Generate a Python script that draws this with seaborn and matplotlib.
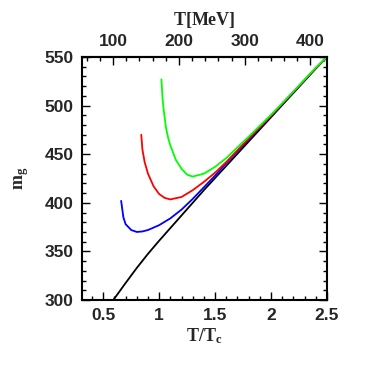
import matplotlib
matplotlib.use("Agg")
import matplotlib.pyplot as plt
from matplotlib.ticker import MultipleLocator
import seaborn as sns
import pandas as pd

# ---- data ----
Tc = 170.0  # MeV

x_black = [0.59, 0.70, 0.80, 0.90, 1.00, 1.10, 1.20, 1.30, 1.40, 1.60, 1.80, 2.00,
           2.20, 2.40, 2.50]
y_black = [300, 317.5, 333, 347.5, 361, 374, 387, 400, 413, 438, 463, 488,
           513, 538, 550]

x_blue = [0.66, 0.68, 0.70, 0.75, 0.80, 0.85, 0.90, 1.00, 1.10, 1.20, 1.30, 1.40,
          1.50, 1.60, 1.80, 2.00, 2.20, 2.40, 2.50]
y_blue = [402, 385, 378, 372, 370, 370.5, 372, 377, 384, 393, 404, 416,
          428, 441, 465, 489, 513.5, 538.5, 550]

x_red = [0.84, 0.85, 0.87, 0.90, 0.95, 1.00, 1.05, 1.10, 1.20, 1.30, 1.40, 1.50,
         1.60, 1.80, 2.00, 2.20, 2.40, 2.50]
y_red = [470, 455, 442, 430, 417, 409, 405, 403.5, 406, 413, 421.5, 431,
         442, 466, 489.5, 514, 538.5, 550]

x_green = [1.02, 1.03, 1.04, 1.06, 1.08, 1.10, 1.15, 1.20, 1.25, 1.30, 1.40, 1.50,
           1.60, 1.80, 2.00, 2.20, 2.40, 2.50]
y_green = [527, 508, 496, 478, 467, 459, 444, 435, 429, 427, 430, 437,
           446, 468, 490.5, 514.5, 539, 550]

x_ticks = [0.5, 1.0, 1.5, 2.0, 2.5]
x_ticklabels = ["0.5", "1", "1.5", "2", "2.5"]
y_ticks = [300, 350, 400, 450, 500, 550]
top_ticks = [100, 200, 300, 400]

series = [("black", x_black, y_black, "#000000"),
          ("blue", x_blue, y_blue, "#0000ff"),
          ("red", x_red, y_red, "#ff0000"),
          ("green", x_green, y_green, "#00ff00")]

frames = []
for name, xs, ys, _ in series:
    frames.append(pd.DataFrame({"x": xs, "y": ys, "s": name}))
df = pd.concat(frames, ignore_index=True)
palette = {name: c for name, _, _, c in series}

# ---- style ----
sns.set_theme(style="ticks")
plt.rcParams["font.family"] = ["Liberation Sans", "DejaVu Sans"]
plt.rcParams["mathtext.fontset"] = "custom"
plt.rcParams["mathtext.rm"] = "Liberation Serif"
plt.rcParams["mathtext.it"] = "Liberation Serif:italic"
plt.rcParams["mathtext.bf"] = "Liberation Serif:bold"

fig = plt.figure(figsize=(3.82, 3.82), dpi=100)
ax = fig.add_axes([0.2147, 0.2147, 0.641, 0.636])

sns.lineplot(data=df, x="x", y="y", hue="s", palette=palette, ax=ax,
             estimator=None, sort=False, legend=False, linewidth=1.3,
             hue_order=["black", "blue", "red", "green"])

ax.set_xlim(0.31, 2.5)
ax.set_ylim(300, 550)
ax.set_xticks(x_ticks)
ax.set_xticklabels(x_ticklabels)
ax.set_yticks(y_ticks)
ax.xaxis.set_minor_locator(MultipleLocator(0.1))
ax.yaxis.set_minor_locator(MultipleLocator(10))
ax.tick_params(which="both", direction="in", top=False, right=True, width=1.0,
               color="black")
ax.tick_params(which="major", length=5.5, pad=6, labelsize=12.5)
ax.tick_params(which="minor", length=3)
for lab in ax.get_xticklabels() + ax.get_yticklabels():
    lab.set_fontweight("bold")
for sp in ax.spines.values():
    sp.set_linewidth(1.5)
    sp.set_color("black")

ax.set_xlabel(r"$\mathbf{T/T_c}$", fontsize=13, labelpad=2)
ax.set_ylabel(r"$\mathbf{m_g}$", fontsize=13, labelpad=10)

sec = ax.secondary_xaxis("top", functions=(lambda t: t * Tc, lambda t: t / Tc))
sec.set_xticks(top_ticks)
sec.xaxis.set_minor_locator(MultipleLocator(20))
sec.tick_params(which="both", direction="in", width=1.0, color="black")
sec.tick_params(which="major", length=5.5, pad=6, labelsize=12.5)
sec.tick_params(which="minor", length=3)
for lab in sec.get_xticklabels():
    lab.set_fontweight("bold")
sec.spines["top"].set_linewidth(1.5)
sec.set_xlabel(r"$\mathbf{T[MeV]}$", fontsize=13, labelpad=6)

fig.savefig("out.png", dpi=100)
